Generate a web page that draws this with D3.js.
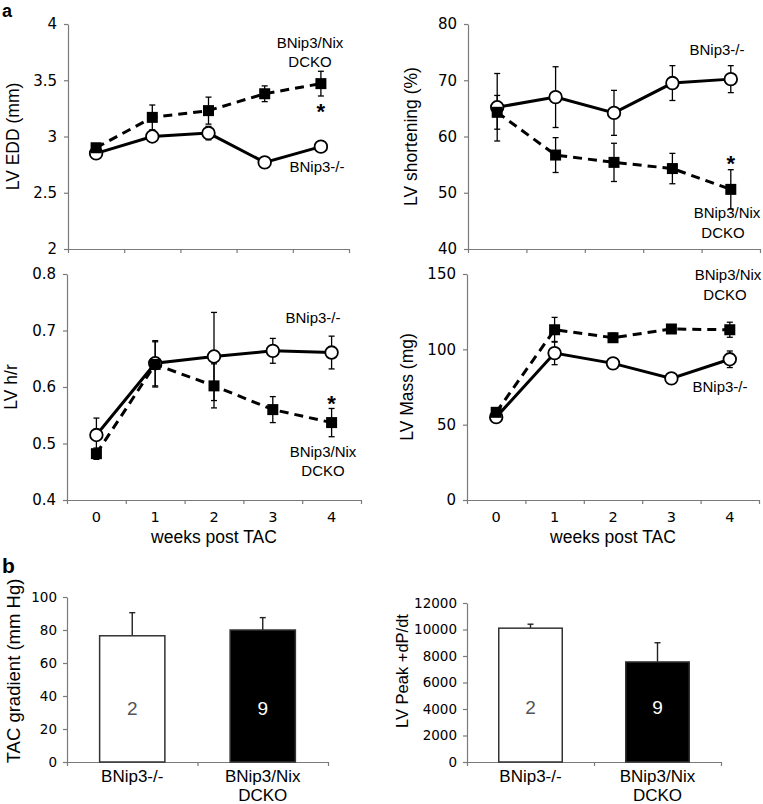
<!DOCTYPE html>
<html><head><meta charset="utf-8">
<script src="https://cdn.jsdelivr.net/npm/d3@7"></script>
<style>body{margin:0;background:#fff}</style>
</head><body><svg id="c" width="763" height="804"></svg>
<script>
// ---- data ----
const weeks = [0, 1, 2, 3, 4];
const eddKO = [2.85, 3.00, 3.03, 2.77, 2.91];
const eddKOErr = [0.03, 0.05, 0.06, 0.05, 0.02];
const eddDCKO = [2.90, 3.17, 3.23, 3.38, 3.47];
const eddDCKOErr = [0.03, 0.11, 0.12, 0.07, 0.11];
const fsKO = [65.2, 67.0, 64.2, 69.5, 70.2];
const fsKOErr = [6.0, 5.4, 4.0, 3.1, 2.4];
const fsDCKO = [64.3, 56.7, 55.4, 54.3, 50.6];
const fsDCKOErr = [3.0, 3.1, 3.4, 2.7, 3.5];
const hrKO = [0.515, 0.642, 0.654, 0.664, 0.661];
const hrKOErr = [0.030, 0.040, 0.078, 0.022, 0.029];
const hrDCKO = [0.482, 0.640, 0.602, 0.560, 0.537];
const hrDCKOErr = [0.010, 0.040, 0.039, 0.023, 0.025];
const massKO = [55, 97.5, 90.7, 80.7, 93.4];
const massKOErr = [1.5, 7.7, 3.0, 1.0, 5.5];
const massDCKO = [58.2, 113, 107.7, 113.5, 113];
const massDCKOErr = [2, 8.2, 3, 2, 5];
const groups = ["BNip3-/-", "BNip3/Nix DCKO"];
const groupLines = [["BNip3-/-"], ["BNip3/Nix", "DCKO"]];
const groupN = ["2", "9"];
const tacGradient = [76.5, 80];
const tacGradientErr = [14, 7.5];
const dpdt = [10100, 7550];
const dpdtErr = [300, 1450];
const eddTicks = [2, 2.5, 3, 3.5, 4];
const fsTicks = [40, 50, 60, 70, 80];
const hrTicks = [0.4, 0.5, 0.6, 0.7, 0.8];
const massTicks = [0, 50, 100, 150];
const tacTicks = [0, 20, 40, 60, 80, 100];
const dpdtTicks = [0, 2000, 4000, 6000, 8000, 10000, 12000];

// ---- drawing ----
const svg = d3.select("#c");
const FONT = '"Liberation Sans", Arial, sans-serif';
const NUMFONT = '"DejaVu Sans", Verdana, sans-serif';
const AX = "#7a7a7a";

function styleAxis(a, fs) {
  a.select(".domain").attr("stroke", AX).attr("stroke-width", 1.2);
  a.selectAll(".tick line").attr("stroke", AX).attr("stroke-width", 1.2);
  a.selectAll(".tick text").attr("fill", "#000").attr("font-family", NUMFONT).attr("font-size", fs);
}
function txt(g, s, x, y, fs, opts = {}) {
  return g.append("text").attr("x", x).attr("y", y).text(s)
    .attr("font-family", opts.family || FONT).attr("font-size", fs)
    .attr("font-weight", opts.weight || "normal")
    .attr("text-anchor", opts.anchor || "middle").attr("fill", opts.fill || "#000");
}
function yTitle(g, s, x, cy, fs) {
  g.append("text").attr("transform", `translate(${x},${cy}) rotate(-90)`)
    .attr("text-anchor", "middle").attr("font-family", FONT).attr("font-size", fs).text(s);
}

function linePanel(cfg) {
  const g = svg.append("g");
  const x = d3.scaleLinear().domain([-0.5, weeks.length - 0.5]).range([cfg.x0, cfg.x1]);
  const y = d3.scaleLinear().domain(cfg.domain).range([cfg.y1, cfg.y0]);
  g.append("g").attr("transform", `translate(${cfg.x0},0)`)
    .call(d3.axisLeft(y).tickValues(cfg.ticks).tickFormat(cfg.fmt).tickSize(4).tickSizeOuter(0).tickPadding(7))
    .call(a => styleAxis(a, 15));
  g.append("g").attr("transform", `translate(0,${cfg.y1})`)
    .call(d3.axisBottom(x).tickValues(d3.range(weeks.length + 1).map(i => i - 0.5)).tickFormat("").tickSize(4).tickSizeOuter(0))
    .call(a => styleAxis(a, 15));
  if (cfg.xLabels) {
    weeks.forEach(w => txt(g, String(w), x(w), cfg.y1 + 22, 14.5, {family: NUMFONT}));
    txt(g, "weeks post TAC", (cfg.x0 + cfg.x1) / 2, cfg.y1 + 43, 17.5);
  }
  yTitle(g, cfg.title, cfg.titleX, (cfg.y0 + cfg.y1) / 2, 17.5);

  const series = [
    {v: cfg.ko, e: cfg.koErr},
    {v: cfg.dcko, e: cfg.dckoErr}
  ];
  series.forEach(s => {
    const eg = g.append("g").attr("stroke", "#000").attr("stroke-width", 1.3);
    weeks.forEach((w, i) => {
      const cx = x(w), yt = y(s.v[i] + s.e[i]), yb = y(s.v[i] - s.e[i]);
      eg.append("line").attr("x1", cx).attr("x2", cx).attr("y1", yt).attr("y2", yb);
      eg.append("line").attr("x1", cx - 3).attr("x2", cx + 3).attr("y1", yt).attr("y2", yt);
      eg.append("line").attr("x1", cx - 3).attr("x2", cx + 3).attr("y1", yb).attr("y2", yb);
    });
  });
  const line = d3.line().x((d, i) => x(weeks[i])).y(d => y(d));
  g.append("path").attr("d", line(cfg.dcko)).attr("fill", "none").attr("stroke", "#000")
    .attr("stroke-width", 3).attr("stroke-dasharray", "9,6");
  g.append("path").attr("d", line(cfg.ko)).attr("fill", "none").attr("stroke", "#000")
    .attr("stroke-width", 3);
  g.selectAll(".ko").data(cfg.ko).join("circle")
    .attr("cx", (d, i) => x(weeks[i])).attr("cy", d => y(d)).attr("r", 6.3)
    .attr("fill", "#fff").attr("stroke", "#000").attr("stroke-width", 1.8);
  const sq = 11;
  g.selectAll(".dc").data(cfg.dcko).join("rect")
    .attr("x", (d, i) => x(weeks[i]) - sq / 2).attr("y", d => y(d) - sq / 2)
    .attr("width", sq).attr("height", sq).attr("fill", "#000");
  if (cfg.star) {
    const last = weeks.length - 1;
    txt(g, "*", x(weeks[last]), y(cfg.dcko[last]) + cfg.star, 22, {weight: "bold"});
  }
  cfg.labels.forEach(l => txt(g, l[0], l[1], l[2], 15));
}

linePanel({x0: 68, x1: 349, y0: 24, y1: 249, domain: [2, 4], ticks: eddTicks, fmt: d3.format("~r"),
  ko: eddKO, koErr: eddKOErr, dcko: eddDCKO, dckoErr: eddDCKOErr, title: "LV EDD (mm)", titleX: 19,
  star: 35, labels: [["BNip3/Nix", 310, 48], ["DCKO", 310, 67], ["BNip3-/-", 317, 172]]});
linePanel({x0: 468, x1: 760, y0: 24, y1: 249, domain: [40, 80], ticks: fsTicks, fmt: d3.format("d"),
  ko: fsKO, koErr: fsKOErr, dcko: fsDCKO, dckoErr: fsDCKOErr, title: "LV shortening (%)", titleX: 417,
  star: -18, labels: [["BNip3-/-", 717, 55], ["BNip3/Nix", 727, 218], ["DCKO", 723, 238]]});
linePanel({x0: 67, x1: 361, y0: 274, y1: 500, domain: [0.4, 0.8], ticks: hrTicks, fmt: d3.format(".1f"),
  ko: hrKO, koErr: hrKOErr, dcko: hrDCKO, dckoErr: hrDCKOErr, title: "LV h/r", titleX: 17, xLabels: true,
  star: -12, labels: [["BNip3-/-", 313, 323], ["BNip3/Nix", 323, 457], ["DCKO", 323, 476]]});
linePanel({x0: 467, x1: 759, y0: 274, y1: 500, domain: [0, 150], ticks: massTicks, fmt: d3.format("d"),
  ko: massKO, koErr: massKOErr, dcko: massDCKO, dckoErr: massDCKOErr, title: "LV Mass (mg)", titleX: 413, xLabels: true,
  star: null, labels: [["BNip3/Nix", 728, 280], ["DCKO", 725, 300], ["BNip3-/-", 720, 392]]});

function barPanel(cfg) {
  const g = svg.append("g");
  const x = d3.scaleBand().domain(groups).range([cfg.x0, cfg.x1]).paddingInner(0.5).paddingOuter(0.25);
  const xe = d3.scaleLinear().domain([0, groups.length]).range([cfg.x0, cfg.x1]);
  const y = d3.scaleLinear().domain(cfg.domain).range([cfg.y1, cfg.y0]);
  g.append("g").attr("transform", `translate(${cfg.x0},0)`)
    .call(d3.axisLeft(y).tickValues(cfg.ticks).tickFormat(d3.format("d")).tickSize(4).tickSizeOuter(0).tickPadding(6))
    .call(a => styleAxis(a, 13.5));
  g.append("g").attr("transform", `translate(0,${cfg.y1})`)
    .call(d3.axisBottom(xe).tickValues(d3.range(groups.length + 1)).tickFormat("").tickSize(4).tickSizeOuter(0))
    .call(a => styleAxis(a, 13.5));
  const fills = ["#fff", "#000"];
  groups.forEach((gr, i) => {
    const bx = x(gr), bw = x.bandwidth(), cx = bx + bw / 2;
    const yt = y(cfg.vals[i] + cfg.errs[i]);
    g.append("line").attr("x1", cx).attr("x2", cx).attr("y1", yt).attr("y2", y(cfg.vals[i]))
      .attr("stroke", "#222").attr("stroke-width", 1.4);
    g.append("line").attr("x1", cx - 3).attr("x2", cx + 3).attr("y1", yt).attr("y2", yt)
      .attr("stroke", "#222").attr("stroke-width", 1.4);
    g.append("rect").attr("x", bx).attr("y", y(cfg.vals[i])).attr("width", bw)
      .attr("height", y(cfg.domain[0]) - y(cfg.vals[i]))
      .attr("fill", fills[i]).attr("stroke", "#333").attr("stroke-width", 1.5);
    txt(g, groupN[i], cx, cfg.nY, 19, {fill: i === 0 ? "#555" : "#fff"});
    groupLines[i].forEach((l, j) => txt(g, l, cx, cfg.y1 + 20 + j * 19, 17));
  });
  yTitle(g, cfg.title, cfg.titleX, cfg.titleY, cfg.titleFs);
}

barPanel({x0: 67, x1: 328, y0: 597, y1: 762, domain: [0, 100], ticks: tacTicks,
  vals: tacGradient, errs: tacGradientErr, nY: 715, title: "TAC gradient (mm Hg)", titleX: 20, titleY: 671, titleFs: 18.5});
barPanel({x0: 467, x1: 721, y0: 603, y1: 762, domain: [0, 12000], ticks: dpdtTicks,
  vals: dpdt, errs: dpdtErr, nY: 714, title: "LV Peak +dP/dt", titleX: 408, titleY: 671, titleFs: 16.5});

txt(svg, "a", 2, 17, 18, {weight: "bold", anchor: "start"});
txt(svg, "b", 2, 573, 21, {weight: "bold", anchor: "start"});
</script>
</body></html>
